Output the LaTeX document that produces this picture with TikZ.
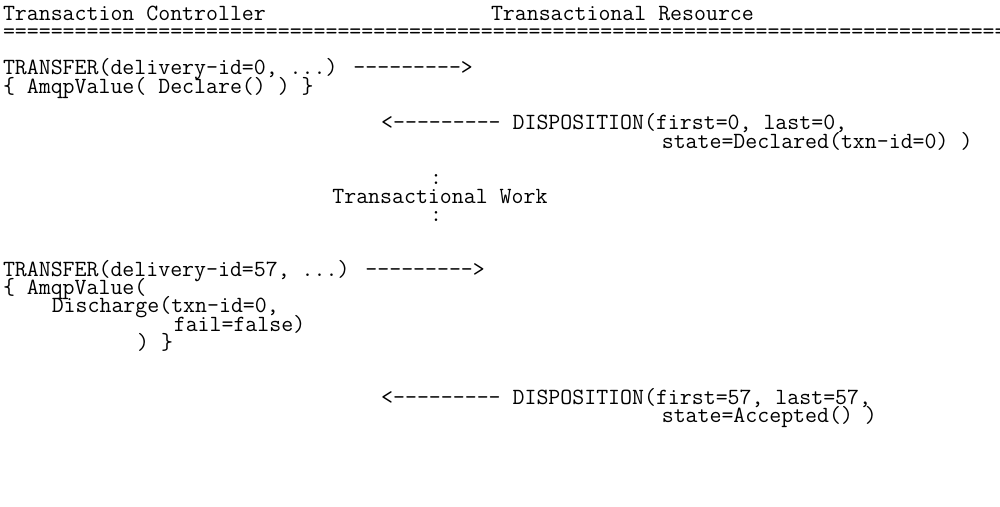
\documentclass[tikz,border=0pt]{standalone}
\begin{document}
\begin{tikzpicture}[x=1pt,y=-1pt,
  txt/.style={anchor=base west,inner sep=0pt,outer sep=0pt,font=\fontsize{23.2}{18}\ttfamily}]
\def\cw{12.2}
\def\xo{3}
\def\yo{20}
\def\lp{18.3}
\useasboundingbox (0,0) rectangle (1000,506);
\clip (0,0) rectangle (1000,506);
\node[txt] (tc) at (\xo+0*\cw,\yo+0*\lp) {Transaction Controller};
\node[txt] (tr) at (\xo+40*\cw,\yo+0*\lp) {Transactional Resource};
\node[txt] (rule) at (\xo+0*\cw,\yo+1*\lp) {=====================================================================================};
\node[txt] (t0) at (\xo+0*\cw,\yo+3*\lp) {TRANSFER(delivery-id=0, ...) --------->};
\node[txt] (a0) at (\xo+0*\cw,\yo+4*\lp) {\{ AmqpValue( Declare() ) \}};
\node[txt] (d0) at (\xo+31*\cw,\yo+6*\lp) {<--------- DISPOSITION(first=0, last=0,};
\node[txt] (s0) at (\xo+54*\cw,\yo+7*\lp) {state=Declared(txn-id=0) )};
\node[txt] (c1) at (\xo+35*\cw,\yo+9*\lp) {:};
\node[txt] (tw) at (\xo+27*\cw,\yo+10*\lp) {Transactional Work};
\node[txt] (c2) at (\xo+35*\cw,\yo+11*\lp) {:};
\node[txt] (t1) at (\xo+0*\cw,\yo+14*\lp) {TRANSFER(delivery-id=57, ...) --------->};
\node[txt] (a1) at (\xo+0*\cw,\yo+15*\lp) {\{ AmqpValue(};
\node[txt] (dc) at (\xo+4*\cw,\yo+16*\lp) {Discharge(txn-id=0,};
\node[txt] (ff) at (\xo+14*\cw,\yo+17*\lp) {fail=false)};
\node[txt] (cl) at (\xo+11*\cw,\yo+18*\lp) {) \}};
\node[txt] (d1) at (\xo+31*\cw,\yo+21*\lp) {<--------- DISPOSITION(first=57, last=57,};
\node[txt] (s1) at (\xo+54*\cw,\yo+22*\lp) {state=Accepted() )};
\end{tikzpicture}
\end{document}
